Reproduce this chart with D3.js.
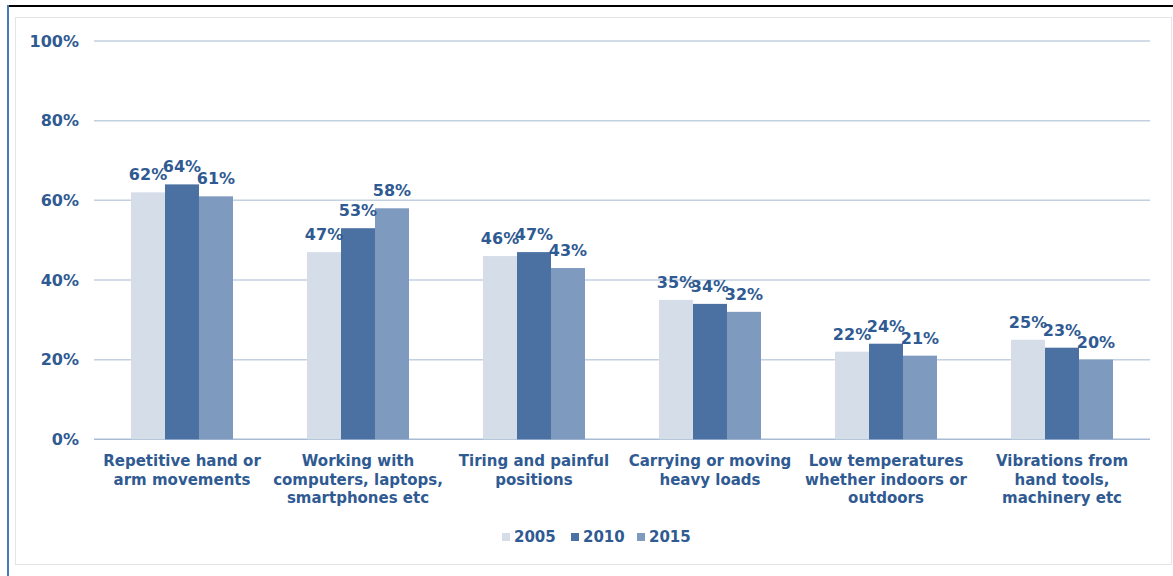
<!DOCTYPE html>
<html>
<head>
<meta charset="utf-8">
<script src="https://cdn.jsdelivr.net/npm/d3@7"></script>
<style>
  html, body { margin: 0; padding: 0; background: #fff; }
  svg { display: block; }
  text { font-family: "DejaVu Sans", Verdana, sans-serif; font-weight: bold; }
</style>
</head>
<body>
<svg id="chart" width="1173" height="576"></svg>
<script>
// Share of workers exposed to each risk factor, by survey year
const categories = [
  ["Repetitive hand or", "arm movements"],
  ["Working with", "computers, laptops,", "smartphones etc"],
  ["Tiring and painful", "positions"],
  ["Carrying or moving", "heavy loads"],
  ["Low temperatures", "whether indoors or", "outdoors"],
  ["Vibrations from", "hand tools,", "machinery etc"]
];
const years = ["2005", "2010", "2015"];
const values2005 = [62, 47, 46, 35, 22, 25];
const values2010 = [64, 53, 47, 34, 24, 23];
const values2015 = [61, 58, 43, 32, 21, 20];
const yTicks = [0, 20, 40, 60, 80, 100];

const seriesValues = [values2005, values2010, values2015];
const colors = ["#d5dde9", "#4a71a2", "#7e9bbf"];
const textColor = "#2f5a92";

const svg = d3.select("#chart");

// frame: black top rule, blue left rule, light inner border
svg.append("rect").attr("x", 15.5).attr("y", 17.5).attr("width", 1156).attr("height", 547)
  .attr("fill", "none").attr("stroke", "#e2e4e8").attr("stroke-width", 1);
svg.append("line").attr("x1", 7).attr("x2", 1173).attr("y1", 6).attr("y2", 6)
  .attr("stroke", "#000").attr("stroke-width", 2);
svg.append("line").attr("x1", 8).attr("x2", 8).attr("y1", 5).attr("y2", 576)
  .attr("stroke", "#4a78b8").attr("stroke-width", 2);

const plot = { left: 94, right: 1150, top: 41, bottom: 439.3 };

const x = d3.scaleBand().domain(d3.range(categories.length))
  .range([plot.left, plot.right]).paddingInner(0).paddingOuter(0);
const barW = 34;
const xs = d3.scaleBand().domain(years).range([0, barW * 3]);

const y = d3.scaleLinear().domain([0, 100]).range([plot.bottom, plot.top]);

// gridlines
svg.append("g").selectAll("line").data(yTicks).join("line")
  .attr("x1", plot.left).attr("x2", plot.right)
  .attr("y1", d => y(d)).attr("y2", d => y(d))
  .attr("stroke", d => d === 0 ? "#a9bcd6" : "#c3d0e0").attr("stroke-width", 1.5);

// y-axis labels
svg.append("g").selectAll("text").data(yTicks).join("text")
  .attr("x", 79).attr("y", d => y(d)).attr("dy", "0.36em")
  .attr("text-anchor", "end").attr("font-size", 16).attr("fill", textColor)
  .text(d => d + "%");

// bars and value labels
const groups = svg.append("g").selectAll("g").data(categories).join("g")
  .attr("transform", (d, i) => `translate(${x(i) + x.bandwidth() / 2 - barW * 1.5},0)`);

years.forEach((yr, s) => {
  groups.append("rect")
    .attr("x", xs(yr))
    .attr("width", xs.bandwidth())
    .attr("y", (d, i) => y(seriesValues[s][i]))
    .attr("height", (d, i) => y(0) - y(seriesValues[s][i]))
    .attr("fill", colors[s]);
});
years.forEach((yr, s) => {
  groups.append("text")
    .attr("x", xs(yr) + xs.bandwidth() / 2)
    .attr("y", (d, i) => y(seriesValues[s][i]) - 12)
    .attr("text-anchor", "middle").attr("font-size", 16).attr("fill", textColor)
    .text((d, i) => seriesValues[s][i] + "%");
});

// category labels
const catLabels = svg.append("g").selectAll("text").data(categories).join("text")
  .attr("x", (d, i) => x(i) + x.bandwidth() / 2)
  .attr("y", 466)
  .attr("text-anchor", "middle").attr("font-size", 15).attr("fill", textColor);
catLabels.selectAll("tspan").data(d => d).join("tspan")
  .attr("x", function () { return d3.select(this.parentNode).attr("x"); })
  .attr("dy", (d, i) => i === 0 ? 0 : 18.5)
  .text(d => d);

// legend
const legendX = [502, 571, 637];
const legend = svg.append("g").selectAll("g").data(years).join("g")
  .attr("transform", (d, i) => `translate(${legendX[i]},0)`);
legend.append("rect").attr("x", 0).attr("y", 533).attr("width", 8).attr("height", 8)
  .attr("fill", (d, i) => colors[i]);
legend.append("text").attr("x", 12).attr("y", 542).attr("font-size", 15)
  .attr("fill", textColor).text(d => d);
</script>
</body>
</html>
